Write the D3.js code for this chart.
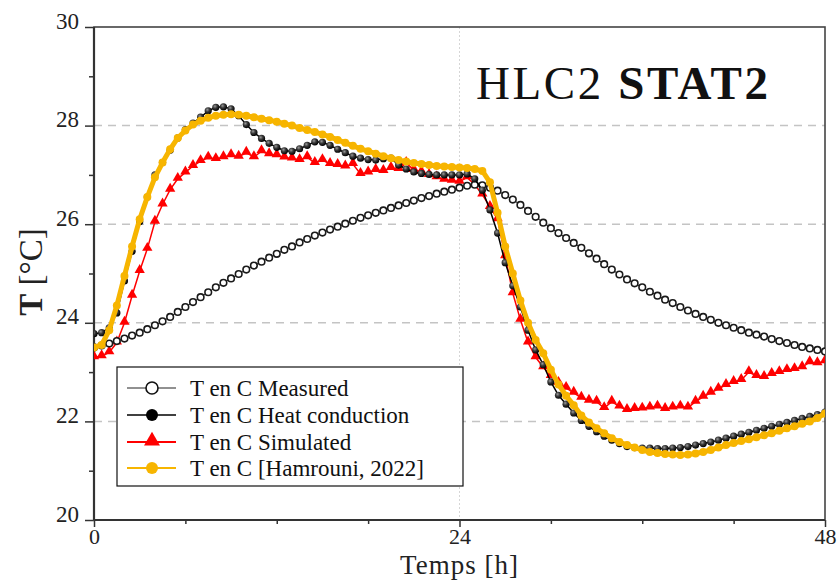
<!DOCTYPE html>
<html>
<head>
<meta charset="utf-8">
<script src="https://cdn.jsdelivr.net/npm/d3@7/dist/d3.min.js"></script>
<style>
  html, body { margin: 0; padding: 0; background: #fff; }
  svg { display: block; }
</style>
</head>
<body>
<svg id="chart" width="839" height="581"></svg>
<script>
// ---------- DATA (time step 0.5 h, from 0 h to 48 h) ----------
const timeStep = 0.5;
const seriesNames = ["T en C Measured", "T en C Heat conduction", "T en C Simulated", "T en C [Hamrouni, 2022]"];
const yTicks = [20, 22, 24, 26, 28, 30];
const xTicks = [0, 24, 48];
const title = ["HLC2 ", "STAT2"];

const measured = [
  23.50,23.54,23.58,23.63,23.68,23.74,23.80,23.87,23.95,24.03,24.12,24.22,24.32,24.42,24.52,24.62,24.72,24.81,24.90,24.99,
  25.08,25.16,25.24,25.32,25.40,25.48,25.55,25.63,25.70,25.77,25.83,25.89,25.95,26.01,26.07,26.13,26.18,26.23,26.28,26.33,
  26.38,26.43,26.48,26.53,26.57,26.62,26.66,26.70,26.74,26.78,26.80,26.79,26.74,26.68,26.59,26.50,26.39,26.27,26.15,26.03,
  25.92,25.82,25.72,25.62,25.52,25.41,25.30,25.19,25.08,24.98,24.88,24.80,24.72,24.63,24.55,24.47,24.40,24.32,24.25,24.18,
  24.12,24.06,24.00,23.95,23.90,23.85,23.80,23.76,23.72,23.67,23.63,23.59,23.55,23.51,23.48,23.45,23.42
];
const heatConduction = [
  23.78,23.80,23.90,24.20,24.85,25.45,26.05,26.55,27.00,27.25,27.50,27.75,27.92,28.05,28.17,28.30,28.37,28.38,28.34,28.20,
  28.02,27.86,27.74,27.64,27.56,27.49,27.48,27.53,27.60,27.67,27.66,27.60,27.52,27.45,27.38,27.34,27.31,27.30,27.33,27.34,
  27.20,27.12,27.06,27.03,27.01,27.00,27.00,27.00,27.00,27.02,26.92,26.69,26.29,25.82,25.22,24.75,24.32,23.85,23.45,23.15,
  22.80,22.53,22.35,22.17,22.02,21.90,21.79,21.70,21.62,21.55,21.49,21.47,21.46,21.46,21.45,21.45,21.46,21.47,21.49,21.52,
  21.55,21.58,21.62,21.66,21.70,21.74,21.78,21.82,21.86,21.90,21.94,21.98,22.02,22.06,22.10,22.14,22.19
];
const simulated = [
  23.30,23.32,23.40,23.60,24.00,24.55,25.05,25.50,26.05,26.40,26.70,26.92,27.05,27.18,27.28,27.35,27.32,27.36,27.40,27.37,
  27.45,27.36,27.48,27.42,27.40,27.35,27.33,27.30,27.36,27.24,27.30,27.22,27.20,27.17,27.22,27.02,27.05,27.10,27.08,27.14,
  27.12,27.24,27.10,27.06,27.00,26.95,26.90,26.88,26.86,26.95,26.80,26.60,26.35,26.10,25.35,24.60,24.06,23.60,23.30,23.10,
  22.92,22.78,22.68,22.58,22.48,22.42,22.40,22.27,22.40,22.30,22.23,22.25,22.26,22.28,22.30,22.25,22.28,22.30,22.28,22.40,
  22.50,22.58,22.66,22.74,22.80,22.84,23.00,22.92,22.90,22.96,23.00,23.04,23.06,23.10,23.20,23.18,23.22
];
const hamrouni = [
  23.50,23.55,23.85,24.35,24.95,25.55,26.10,26.55,26.95,27.25,27.52,27.75,27.90,28.02,28.10,28.16,28.20,28.22,28.23,28.22,
  28.20,28.17,28.14,28.11,28.08,28.04,28.00,27.95,27.91,27.87,27.82,27.77,27.71,27.65,27.59,27.53,27.48,27.43,27.38,27.34,
  27.30,27.27,27.24,27.22,27.20,27.18,27.17,27.16,27.15,27.14,27.12,27.08,26.85,26.23,25.55,25.00,24.45,24.00,23.65,23.38,
  23.05,22.75,22.52,22.33,22.12,21.98,21.86,21.76,21.66,21.58,21.52,21.47,21.42,21.38,21.36,21.34,21.33,21.32,21.33,21.35,
  21.38,21.42,21.47,21.52,21.56,21.60,21.64,21.68,21.72,21.76,21.81,21.86,21.90,21.95,22.00,22.07,22.16
];

// ---------- LAYOUT ----------
const svg = d3.select("#chart");
const pLeft = 94, pRight = 825, pTop = 27, pBottom = 520;
const x = d3.scaleLinear().domain([0, 48]).range([pLeft, pRight]);
const y = d3.scaleLinear().domain([20, 30]).range([pBottom, pTop]);
const serif = "'Liberation Serif', 'Times New Roman', serif";

const defs = svg.append("defs");
const grad = defs.append("radialGradient").attr("id", "ball").attr("cx", "38%").attr("cy", "35%").attr("r", "65%");
grad.append("stop").attr("offset", "0%").attr("stop-color", "#9a9a9a");
grad.append("stop").attr("offset", "45%").attr("stop-color", "#3a3a3a");
grad.append("stop").attr("offset", "100%").attr("stop-color", "#000");
defs.append("clipPath").attr("id", "plotClip").append("rect")
  .attr("x", pLeft).attr("y", pTop).attr("width", pRight - pLeft).attr("height", pBottom - pTop);

// grid
svg.append("g").selectAll("line").data([22, 24, 26, 28]).join("line")
  .attr("x1", pLeft).attr("x2", pRight).attr("y1", d => y(d)).attr("y2", d => y(d))
  .attr("stroke", "#c4c4c4").attr("stroke-width", 1.5).attr("stroke-dasharray", "8,6");
svg.append("line").attr("x1", x(24)).attr("x2", x(24)).attr("y1", pTop).attr("y2", pBottom)
  .attr("stroke", "#d6d6d6").attr("stroke-width", 1).attr("stroke-dasharray", "2,2");

// axes
const yAxis = d3.axisLeft(y).tickValues(d3.range(20, 30.01, 1)).tickSize(0).tickFormat("");
const gy = svg.append("g").attr("transform", `translate(${pLeft},0)`).call(yAxis).attr("font-family", null);
gy.select(".domain").remove();
gy.selectAll(".tick line").attr("x2", d => (d % 2 === 0 ? -9 : -5)).attr("stroke", "#333").attr("stroke-width", 1.5);
gy.selectAll(".tick").filter(d => yTicks.includes(d)).append("text")
  .attr("x", -15).attr("y", 1).attr("text-anchor", "end").attr("fill", "#222")
  .style("font-family", serif).style("font-size", "23px").text(d => d);

const xAxis = d3.axisBottom(x).tickValues(d3.range(0, 48.01, 6)).tickSize(0).tickFormat("");
const gx = svg.append("g").attr("transform", `translate(0,${pBottom})`).call(xAxis).attr("font-family", null);
gx.select(".domain").remove();
gx.selectAll(".tick line").attr("y2", d => (xTicks.includes(d) ? 7 : 4)).attr("stroke", "#333").attr("stroke-width", 1.5);
gx.selectAll(".tick").filter(d => xTicks.includes(d)).append("text")
  .attr("y", 24).attr("text-anchor", "middle").attr("fill", "#222")
  .style("font-family", serif).style("font-size", "22px").text(d => d);

// frame
svg.append("rect").attr("x", pLeft).attr("y", pTop).attr("width", pRight - pLeft).attr("height", pBottom - pTop)
  .attr("fill", "none").attr("stroke", "#444").attr("stroke-width", 1.6);
svg.append("line").attr("x1", pLeft).attr("x2", pLeft).attr("y1", pTop).attr("y2", pBottom).attr("stroke", "#333").attr("stroke-width", 2.2);
svg.append("line").attr("x1", pLeft).attr("x2", pRight).attr("y1", pBottom).attr("y2", pBottom).attr("stroke", "#333").attr("stroke-width", 2.2);

// axis titles
svg.append("text").attr("x", x(24)).attr("y", 574).attr("text-anchor", "middle").attr("fill", "#222")
  .style("font-family", serif).style("font-size", "27px").style("letter-spacing", "1px").text("Temps [h]");
const yl = svg.append("text").attr("transform", "translate(42,272) rotate(-90)").attr("text-anchor", "middle")
  .attr("fill", "#222").style("font-family", serif).style("font-size", "33px");
yl.append("tspan").style("font-weight", "bold").text("T");
yl.append("tspan").text(" [°C]");

// title
const tt = svg.append("text").attr("x", 476).attr("y", 99).attr("fill", "#111")
  .style("font-family", serif).style("font-size", "47px").style("letter-spacing", "2.6px");
tt.append("tspan").text(title[0]);
tt.append("tspan").style("font-weight", "bold").text(title[1]);

// ---------- SERIES ----------
const plot = svg.append("g").attr("clip-path", "url(#plotClip)");
const line = d3.line().x((d, i) => x(i * timeStep)).y(d => y(d));
const tri = d3.symbol().type(d3.symbolTriangle).size(46);

// simulated (red)
plot.append("path").datum(simulated).attr("d", line).attr("fill", "none").attr("stroke", "#ff0000").attr("stroke-width", 1.5);
plot.append("g").selectAll("path").data(simulated).join("path")
  .attr("d", tri).attr("transform", (d, i) => `translate(${x(i * timeStep)},${y(d) - 1})`).attr("fill", "#ff0000");

// measured (open circles)
plot.append("path").datum(measured).attr("d", line).attr("fill", "none").attr("stroke", "#222").attr("stroke-width", 1);
plot.append("g").selectAll("circle").data(measured).join("circle")
  .attr("cx", (d, i) => x(i * timeStep)).attr("cy", d => y(d)).attr("r", 3.3)
  .attr("fill", "#fff").attr("stroke", "#1a1a1a").attr("stroke-width", 1.6);

// heat conduction (black balls)
plot.append("path").datum(heatConduction).attr("d", line).attr("fill", "none").attr("stroke", "#000").attr("stroke-width", 1.5);
plot.append("g").selectAll("circle").data(heatConduction).join("circle")
  .attr("cx", (d, i) => x(i * timeStep)).attr("cy", d => y(d)).attr("r", 3.6).attr("fill", "url(#ball)");

// Hamrouni (yellow)
plot.append("path").datum(hamrouni).attr("d", line).attr("fill", "none").attr("stroke", "#f7b500").attr("stroke-width", 5)
  .attr("stroke-linejoin", "round");
plot.append("g").selectAll("circle").data(hamrouni).join("circle")
  .attr("cx", (d, i) => x(i * timeStep)).attr("cy", d => y(d)).attr("r", 4).attr("fill", "#f7b500");

// ---------- LEGEND ----------
const lg = svg.append("g");
lg.append("rect").attr("x", 117).attr("y", 367).attr("width", 346).attr("height", 119)
  .attr("fill", "#fff").attr("stroke", "#111").attr("stroke-width", 1.2);
const rowY = [388, 415, 442, 468];
const legStyle = [
  { stroke: "#222", sw: 1, kind: "open" },
  { stroke: "#000", sw: 1.5, kind: "dot", fill: "#000" },
  { stroke: "#ff0000", sw: 2, kind: "tri", fill: "#ff0000" },
  { stroke: "#f7b500", sw: 2, kind: "dot", fill: "#f7b500" }
];
seriesNames.forEach((name, i) => {
  const g = lg.append("g").attr("transform", `translate(0,${rowY[i]})`);
  const s = legStyle[i];
  g.append("line").attr("x1", 127).attr("x2", 176).attr("y1", 0).attr("y2", 0).attr("stroke", s.stroke).attr("stroke-width", s.sw);
  if (s.kind === "open") {
    g.append("circle").attr("cx", 152).attr("cy", 0).attr("r", 6).attr("fill", "#fff").attr("stroke", "#111").attr("stroke-width", 1.6);
  } else if (s.kind === "dot") {
    g.append("circle").attr("cx", 152).attr("cy", 0).attr("r", 6).attr("fill", s.fill);
  } else {
    g.append("path").attr("d", d3.symbol().type(d3.symbolTriangle).size(110)).attr("transform", "translate(152,-1)").attr("fill", s.fill);
  }
  g.append("text").attr("x", 190).attr("y", 8).attr("fill", "#111")
    .style("font-family", serif).style("font-size", "23px").text(name);
});
</script>
</body>
</html>
